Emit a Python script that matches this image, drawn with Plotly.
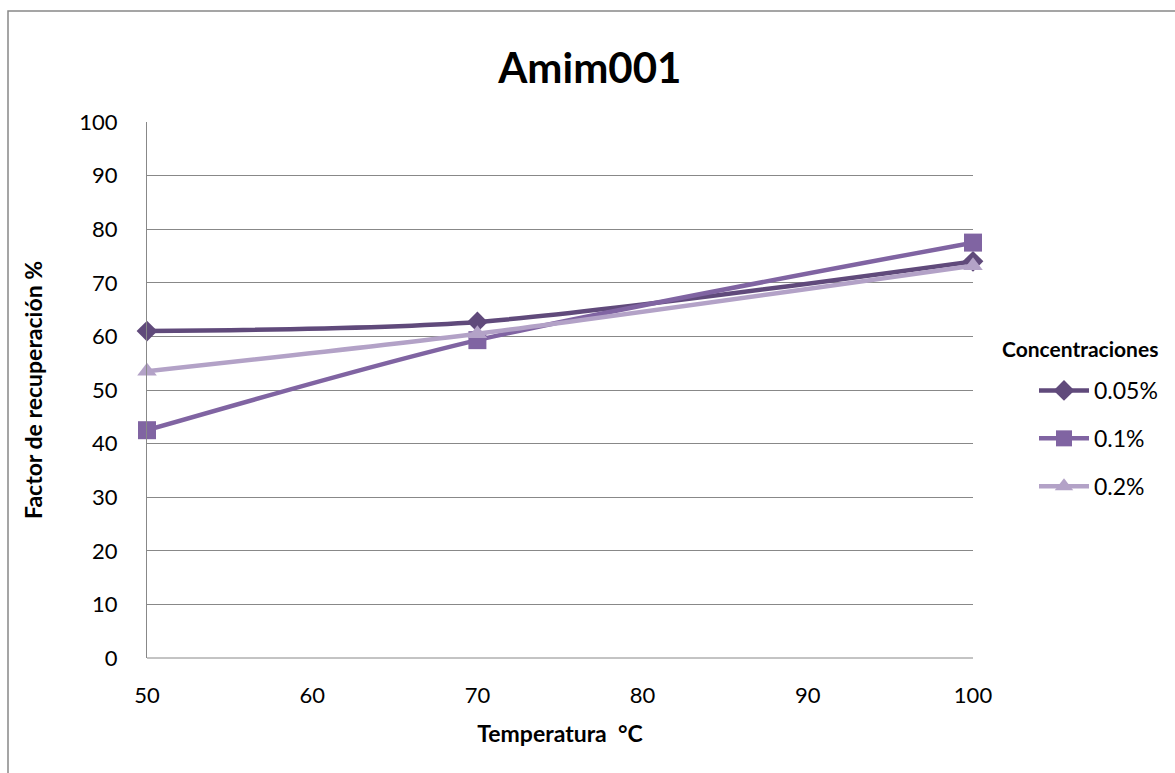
import plotly.graph_objects as go

temperatures = [50, 70, 100]
series_names = ["0.05%", "0.1%", "0.2%"]
recovery_005 = [61.0, 62.7, 74.0]
recovery_01 = [42.5, 59.3, 77.5]
recovery_02 = [53.5, 60.5, 73.2]
x_ticks = [50, 60, 70, 80, 90, 100]
y_ticks = [0, 10, 20, 30, 40, 50, 60, 70, 80, 90, 100]

colors = ["#604A7B", "#8064A2", "#B3A2C7"]
symbols = ["diamond", "square", "triangle-up"]
marker_sizes = [16, 18, 17]
FONT = "Lato, Carlito, 'Liberation Sans', sans-serif"

fig = go.Figure()
for i, (name, vals) in enumerate(zip(series_names, [recovery_005, recovery_01, recovery_02])):
    fig.add_trace(go.Scatter(
        x=temperatures, y=vals, name=name, mode="lines+markers",
        line=dict(color=colors[i], width=4.5, shape="spline", smoothing=0.8),
        marker=dict(symbol=symbols[i], size=marker_sizes[i], color=colors[i]),
        legendgroup=name, cliponaxis=False,
    ))

W, H = 1175, 773
L, R, T, B = 147, 202, 122, 115
pw, ph = W - L - R, H - T - B

fig.update_layout(
    width=W, height=H,
    margin=dict(l=L, r=R, t=T, b=B),
    paper_bgcolor="white", plot_bgcolor="white",
    font=dict(family=FONT, color="#000000", size=22),
    title=dict(text="<b>Amim001</b>", x=0.502, xanchor="center", y=0.912, yanchor="middle",
               font=dict(size=42, family=FONT)),
    xaxis=dict(range=[50, 100], tickvals=x_ticks, showgrid=False, zeroline=False,
               showline=False, ticks="", tickfont=dict(size=22), ticklabelstandoff=22,
               title=dict(text="<b>Temperatura  °C</b>", font=dict(size=23), standoff=18)),
    yaxis=dict(range=[0, 100], tickvals=y_ticks, showgrid=True, gridcolor="#888888", gridwidth=1,
               zeroline=False, showline=True, linecolor="#888888", linewidth=1,
               ticks="", tickfont=dict(size=22), ticklabelstandoff=24,
               title=dict(text="<b>Factor de recuperación %</b>", font=dict(size=23), standoff=30)),
    legend=dict(x=(1034 - L) / pw, xanchor="left", y=(H - B - 369) / ph, yanchor="top",
                font=dict(size=23), tracegroupgap=15, traceorder="grouped",
                itemwidth=50, bgcolor="rgba(0,0,0,0)"),
    annotations=[dict(text="<b>Concentraciones</b>", xref="paper", yref="paper",
                      x=(1000 - L) / pw, xanchor="left", y=(H - B - 348) / ph, yanchor="middle",
                      showarrow=False, font=dict(size=21, family=FONT))],
)

# x-axis baseline
fig.add_shape(type="line", xref="paper", yref="paper", x0=0, x1=1, y0=0, y1=0,
              line=dict(color="#888888", width=1))
# outer chart border (extends beyond figure on right/bottom, as in reference)
fig.add_shape(type="rect", xref="paper", yref="paper",
              x0=(8 - L) / pw, x1=(W + 20 - L) / pw,
              y0=-(B + 20) / ph, y1=(H - 11 - B) / ph,
              line=dict(color="#888888", width=1.5), fillcolor="rgba(0,0,0,0)", layer="below")

fig.write_html("out.html")
